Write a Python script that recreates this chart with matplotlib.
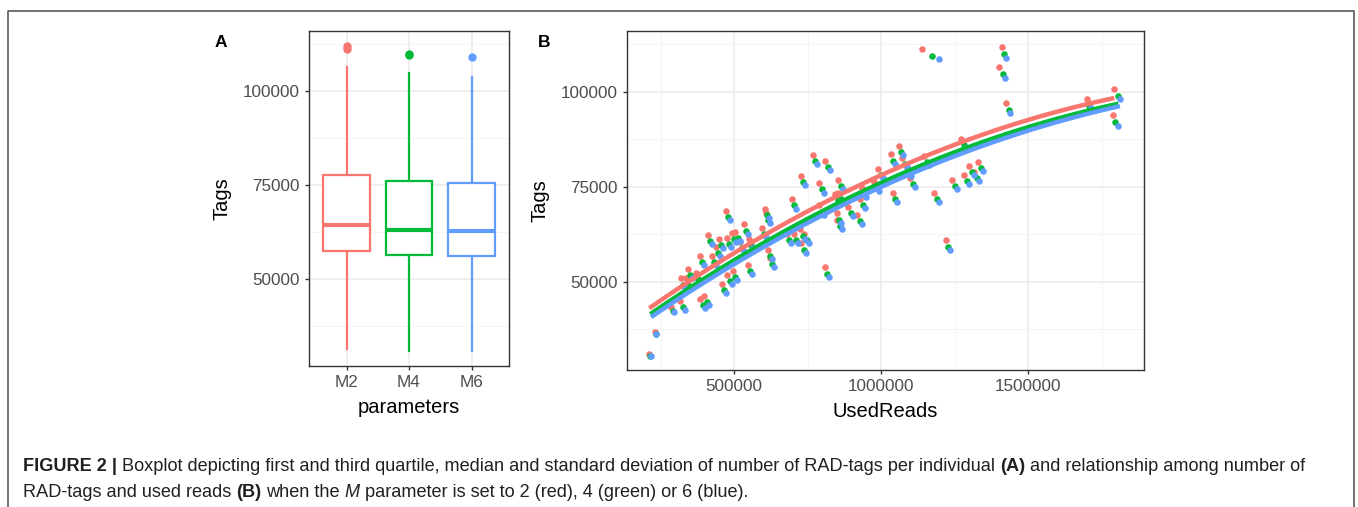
import numpy as np
import matplotlib
matplotlib.use("Agg")
import matplotlib.pyplot as plt
from matplotlib.transforms import IdentityTransform
from matplotlib.lines import Line2D

plt.rcParams['font.family'] = ['Liberation Sans', 'DejaVu Sans']

# ---- panel A: boxplot summary per M parameter
params = ['M2', 'M4', 'M6']
box_q1 = [57400, 56400, 56000]
box_med = [64300, 63000, 62600]
box_q3 = [77700, 76000, 75500]
box_lo = [31200, 30900, 30700]
box_hi = [106400, 104600, 103700]
box_out = [[111200, 111800], [109400, 109800], [109000]]

# ---- panel B: UsedReads vs Tags for each individual, M = 2, 4, 6
reads_m2 = [211000, 229600, 284700, 316300, 318700, 335000, 341200, 369700, 382000, 384400,
            398600, 409900, 423500, 437100, 447300, 458200, 471100, 474500, 476200, 495600,
            491500, 503400, 518000, 532300, 545900, 548600, 594200, 603100, 607800, 613300,
            620100, 696300, 701700, 679300, 724500, 738100, 727900, 790100, 790100, 808500,
            849300, 851400, 854800, 853700, 888800, 919400, 976200, 1039800, 767700, 809500,
            726900, 843500, 928600, 934400, 990800, 1033000, 1060200, 1071400, 1087400, 1098600,
            1147300, 1180300, 1220100, 1242500, 1272100, 1282300, 1299300, 1316300, 1329900, 1138400,
            1410600, 1402400, 1425200, 1699700, 1793600, 1788100]
tags_m2 = [31000, 36900, 43400, 45100, 50900, 50900, 53300, 52300, 56800, 45600,
           46400, 62300, 56900, 59100, 61200, 49500, 68700, 61500, 51800, 52800,
           62900, 63100, 60500, 65100, 54500, 61200, 64100, 69300, 68000, 58500,
           56200, 71700, 62700, 62700, 63800, 62700, 60100, 75900, 70100, 53800,
           68000, 66400, 73400, 76800, 69800, 67600, 76300, 73300, 83300, 81800,
           77800, 73200, 71800, 74700, 79600, 83500, 85800, 82700, 80200, 77400,
           83100, 73500, 60900, 76800, 87700, 78100, 80400, 79000, 81600, 111200,
           111800, 106400, 97100, 98100, 100600, 93900]

reads_m4 = [214400, 233000, 290000, 324800, 327200, 343500, 349700, 378200, 390500, 392900,
            407100, 418400, 432000, 445600, 455800, 466700, 479600, 483000, 484700, 504100,
            500000, 511900, 526500, 540800, 554400, 557100, 602700, 611600, 616300, 621800,
            628600, 704800, 710200, 687800, 733000, 746600, 736400, 798600, 798600, 817000,
            857800, 859900, 863300, 862200, 897300, 927900, 984700, 1048300, 776200, 818000,
            735400, 852000, 937100, 942900, 999300, 1041500, 1068700, 1079900, 1095900, 1107100,
            1155800, 1188800, 1228600, 1251000, 1280600, 1290800, 1307800, 1324800, 1338400, 1171400,
            1418400, 1413600, 1434400, 1708600, 1807200, 1797200]
tags_m4 = [30600, 36300, 42400, 43500, 49300, 49300, 51700, 50700, 55200, 44000,
           44800, 60700, 55300, 57500, 59600, 47900, 67100, 59900, 50200, 51200,
           61300, 61500, 58900, 63500, 52900, 59600, 62500, 67700, 66400, 56900,
           54600, 70100, 61100, 61100, 62200, 61100, 58500, 74300, 68500, 52200,
           66400, 64800, 71800, 75200, 68200, 66000, 74700, 71700, 81700, 80200,
           76200, 71600, 70200, 73100, 78000, 81900, 84200, 81100, 78600, 75800,
           81500, 71900, 59300, 75200, 86100, 76500, 78800, 77400, 80000, 109400,
           109800, 104600, 95200, 96200, 98900, 92000]

reads_m6 = [216800, 235400, 294900, 331600, 334000, 350300, 356500, 385000, 397300, 399700,
            413900, 425200, 438800, 452400, 462600, 473500, 486400, 489800, 491500, 510900,
            506800, 518700, 533300, 547600, 561200, 563900, 609500, 618400, 623100, 628600,
            635400, 711600, 717000, 694600, 739800, 753400, 743200, 805400, 805400, 823800,
            864600, 866700, 870100, 869000, 904100, 934700, 991500, 1055100, 783000, 824800,
            742200, 858800, 943900, 949700, 1006100, 1048300, 1075500, 1086700, 1102700, 1113900,
            1162600, 1195600, 1235400, 1257800, 1287400, 1297600, 1314600, 1331600, 1345200, 1197200,
            1424200, 1420400, 1439800, 1713000, 1812600, 1805100]
tags_m6 = [30400, 36200, 42100, 42700, 48500, 48500, 50900, 49900, 54400, 43200,
           44000, 59900, 54500, 56700, 58800, 47100, 66300, 59100, 49400, 50400,
           60500, 60700, 58100, 62700, 52100, 58800, 61700, 66900, 65600, 56100,
           53800, 69300, 60300, 60300, 61400, 60300, 57700, 73500, 67700, 51400,
           65600, 64000, 71000, 74400, 67400, 65200, 73900, 70900, 80900, 79400,
           75400, 70800, 69400, 72300, 77200, 81100, 83400, 80300, 77800, 75000,
           80700, 71100, 58500, 74400, 85300, 75700, 78000, 76600, 79200, 108600,
           109000, 103700, 94500, 95600, 98100, 91000]

colors = ['#F8766D', '#00BA38', '#619CFF']

caption_1 = [("FIGURE 2 |", 'bold', 'normal', False),
             ("Boxplot depicting first and third quartile, median and standard deviation of "
              "number of RAD-tags per individual", 'normal', 'normal', True),
             ("(A)", 'bold', 'normal', True),
             ("and relationship among number of", 'normal', 'normal', True)]
caption_2 = [("RAD-tags and used reads", 'normal', 'normal', False),
             ("(B)", 'bold', 'normal', True),
             ("when the", 'normal', 'normal', True),
             ("M", 'normal', 'italic', True),
             ("parameter is set to 2 (red), 4 (green) or 6 (blue).", 'normal', 'normal', True)]


def theme_bw(ax):
    ax.set_facecolor('white')
    for s in ax.spines.values():
        s.set_color('#333333')
        s.set_linewidth(1.0)
    ax.grid(True, which='major', color='#EBEBEB', lw=1.1)
    ax.grid(True, which='minor', color='#F2F2F2', lw=0.6)
    ax.set_axisbelow(True)
    ax.tick_params(which='major', length=3, width=1.0, color='#333333',
                   labelsize=12.3, labelcolor='#4D4D4D', pad=3.5)
    ax.tick_params(which='minor', length=0)


W, H = 1358, 507
fig = plt.figure(figsize=(W / 100, H / 100), dpi=100)


def px_axes(left, top, right, bottom):
    return fig.add_axes([left / W, 1 - bottom / H, (right - left) / W, (bottom - top) / H])


# outer frame of the figure box
fig.add_artist(Line2D([8 / W, 8 / W, 1354 / W, 1354 / W], [0, 1 - 11 / H, 1 - 11 / H, 0],
                      transform=fig.transFigure, color='#5A5A5A', lw=1.2))

# ---- panel A
axA = px_axes(309, 31, 509, 366)
theme_bw(axA)
stats = []
for i in range(3):
    stats.append(dict(med=box_med[i], q1=box_q1[i], q3=box_q3[i],
                      whislo=box_lo[i], whishi=box_hi[i], fliers=box_out[i]))
bp = axA.bxp(stats, positions=[1, 2, 3], widths=0.75, showcaps=False, patch_artist=True)
for i, c in enumerate(colors):
    bp['boxes'][i].set(facecolor='white', edgecolor=c, linewidth=1.6)
    bp['medians'][i].set(color=c, linewidth=3.0)
    for wl in bp['whiskers'][2 * i:2 * i + 2]:
        wl.set(color=c, linewidth=1.6)
    bp['fliers'][i].set(marker='o', markerfacecolor=c, markeredgecolor=c, markersize=5)
axA.set_xlim(0.4, 3.6)
axA.set_ylim(26800, 115900)
axA.set_xticks([1, 2, 3])
axA.set_xticklabels(params)
axA.set_yticks([50000, 75000, 100000])
axA.set_yticks([37500, 62500, 87500, 112500], minor=True)
axA.set_xlabel('parameters', fontsize=14.5, labelpad=6)
axA.set_ylabel('Tags', fontsize=14.5, labelpad=8)

# ---- panel B
axB = px_axes(627, 31, 1144, 370)
theme_bw(axB)
series = [(reads_m2, tags_m2), (reads_m4, tags_m4), (reads_m6, tags_m6)]
for (rx, ty), c in zip(series, colors):
    axB.scatter(rx, ty, s=22, color=c, linewidths=0, zorder=3)
for (rx, ty), c in zip(series, colors):
    # smooth trend per M value: quadratic least-squares fit
    coef = np.polyfit(np.array(rx) / 1e6, ty, 2)
    xs = np.linspace(min(rx), max(rx), 80)
    axB.plot(xs, np.polyval(coef, xs / 1e6), color=c, lw=3.2, zorder=4, solid_capstyle='butt')
axB.set_xlim(135000, 1894600)
axB.set_ylim(26840, 115970)
axB.set_xticks([500000, 1000000, 1500000])
axB.set_xticks([250000, 750000, 1250000, 1750000], minor=True)
axB.set_xticklabels(['500000', '1000000', '1500000'])
axB.set_yticks([50000, 75000, 100000])
axB.set_yticks([37500, 62500, 87500, 112500], minor=True)
axB.set_yticklabels(['50000', '75000', '100000'])
axB.set_xlabel('UsedReads', fontsize=14.5, labelpad=6)
axB.set_ylabel('Tags', fontsize=14.5, labelpad=8)

# panel letters
fig.text(215, H - 47, 'A', transform=IdentityTransform(), fontsize=12.5, fontweight='bold')
fig.text(538, H - 47, 'B', transform=IdentityTransform(), fontsize=12.5, fontweight='bold')

# ---- caption, written run by run so bold / italic pieces line up
renderer = fig.canvas.get_renderer()


def put_runs(x, y, runs, size):
    made = []
    probe = fig.text(0, 0, 'a a', fontsize=size, transform=IdentityTransform())
    probe2 = fig.text(0, 0, 'aa', fontsize=size, transform=IdentityTransform())
    space = probe.get_window_extent(renderer).width - probe2.get_window_extent(renderer).width
    probe.remove()
    probe2.remove()
    for text, weight, style, gap in runs:
        if gap:
            x += space
        t = fig.text(x, y, text, transform=IdentityTransform(), fontsize=size,
                     fontweight=weight, fontstyle=style, color='#231F20', va='baseline')
        made.append(t)
        x = t.get_window_extent(renderer).x1
    return made, x


size = 12.0
items, end = put_runs(23, H - 471, caption_1, size)
for t in items:
    t.remove()
size = size * (1310 - 23) / (end - 23)
put_runs(23, H - 471, caption_1, size)
put_runs(23, H - 497, caption_2, size)

fig.savefig('out.png', dpi=100)
